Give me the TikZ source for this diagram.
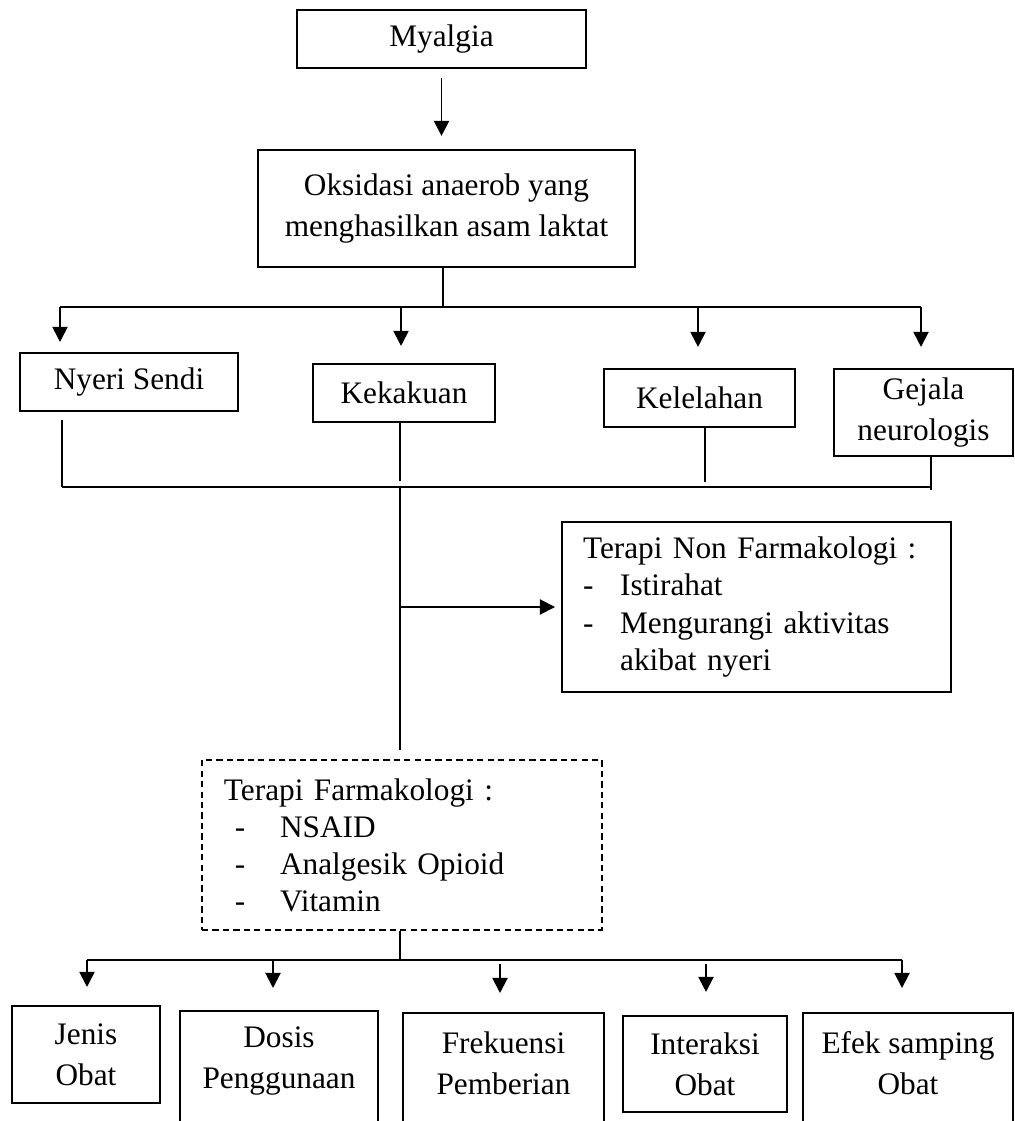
\documentclass[tikz,border=0pt]{standalone}
\usepackage{fontspec}
\setmainfont{Liberation Serif}
\usetikzlibrary{arrows.meta}

\def\px{0.3834pt}

\begin{document}
\begin{tikzpicture}[
    x=\px, y=-\px,
    font=\fontsize{12}{15.7}\selectfont,
    kotak/.style={draw, line width=0.8pt, align=center, inner sep=0pt},
    kotakbuka/.style={kotak, anchor=north, text depth=32pt},
    daftar/.style={kotak, align=left, font=\fontsize{12}{14.2}\selectfont},
    putus/.style={dash pattern=on 2.4pt off 1.6pt},
    garis/.style={line width=0.75pt},
    panah/.style={line width=0.75pt, -{Triangle[length=5.8pt,width=5.8pt]}}
]

\useasboundingbox (0,0) rectangle (1015,1121);

%% Baris atas
\node[kotak, minimum width=289*\px, minimum height=58*\px] (myalgia) at (441.5,39) {Myalgia};
\node[kotak, minimum width=377*\px, minimum height=117*\px] (oksidasi) at (446.5,208.5)
    {Oksidasi anaerob yang\\menghasilkan asam laktat};

%% Gejala
\node[kotak, minimum width=218*\px, minimum height=58*\px] (nyeri) at (129,382) {Nyeri Sendi};
\node[kotak, minimum width=182*\px, minimum height=58*\px] (kekakuan) at (404,393) {Kekakuan};
\node[kotak, minimum width=191*\px, minimum height=58*\px] (kelelahan) at (699.5,398) {Kelelahan};
\node[kotak, minimum width=179*\px, minimum height=87*\px] (gejala) at (923.5,412.5) {Gejala\\neurologis};

%% Terapi
\node[daftar, inner xsep=21*\px, text width=133.0pt, minimum height=170*\px]
    (nonfarm) at (756.5,607) {Terapi Non Farmakologi :\\
    \makebox[14.2pt][l]{-}Istirahat\\
    \makebox[14.2pt][l]{-}Mengurangi aktivitas\\
    \hspace*{14.2pt}akibat nyeri};
\node[daftar, putus, inner xsep=22*\px, text width=136.5pt, minimum height=170*\px]
    (farm) at (402,845) {Terapi Farmakologi :\\
    \hspace*{4.2pt}\makebox[17.3pt][l]{-}NSAID\\
    \hspace*{4.2pt}\makebox[17.3pt][l]{-}Analgesik Opioid\\
    \hspace*{4.2pt}\makebox[17.3pt][l]{-}Vitamin};

%% Aspek obat
\node[kotak, minimum width=148*\px, minimum height=97*\px] (jenis) at (86,1054.5) {Jenis\\Obat};
\node[kotakbuka, minimum width=198*\px, inner ysep=6pt] (dosis) at (279,1010) {Dosis\\Penggunaan};
\node[kotakbuka, minimum width=201*\px, inner ysep=7.1pt] (frekuensi) at (503.5,1012) {Frekuensi\\Pemberian};
\node[kotak, minimum width=164*\px, minimum height=96*\px] (interaksi) at (705,1064) {Interaksi\\Obat};
\node[kotakbuka, minimum width=210*\px, inner ysep=7.1pt] (efek) at (908,1012) {Efek samping\\Obat};

%% Titik cabang
\coordinate (cabang1) at (443,307);
\coordinate (c1a) at (60,307);
\coordinate (c1b) at (401,307);
\coordinate (c1c) at (698,307);
\coordinate (c1d) at (921,307);
\coordinate (c2a) at (62,487);
\coordinate (c2b) at (400,487);
\coordinate (c2c) at (705,487);
\coordinate (c2d) at (931,487);
\coordinate (c3) at (400,960);
\coordinate (c3a) at (87,960);
\coordinate (c3b) at (273,960);
\coordinate (c3c) at (500,960);
\coordinate (c3d) at (706,960);
\coordinate (c3e) at (902,960);

%% Panah atas
\draw[panah, shorten <=9*\px, shorten >=13*\px] (myalgia.south) -- (myalgia.south |- oksidasi.north);
\draw[garis] (oksidasi.south -| cabang1) -- (cabang1);
\draw[garis] (c1a) -- (c1d);
\foreach \c/\b/\t in {c1a/nyeri/10, c1b/kekakuan/17, c1c/kelelahan/21, c1d/gejala/21}
    \draw[panah, shorten >=\t*\px] (\c) -- (\c |- \b.north);

%% Gejala ke garis bawah
\draw[garis, shorten <=8*\px] (nyeri.south -| c2a) -- (c2a);
\draw[garis, shorten >=6*\px] (kekakuan.south -| c2b) -- (c2b);
\draw[garis, shorten >=5*\px] (kelelahan.south -| c2c) -- (c2c);
\draw[garis, shorten >=-3*\px] (gejala.south -| c2d) -- (c2d);
\draw[garis] (c2a) -- (c2d);

%% Ke terapi
\draw[garis, shorten >=9*\px] (c2b) -- (c2b |- farm.north);
\coordinate (c2e) at (c2b |- nonfarm.west);
\draw[panah, shorten >=6*\px] (c2e) -- (nonfarm.west);

%% Terapi farmakologi ke aspek obat
\draw[garis] (farm.south -| c3) -- (c3);
\draw[garis] (c3a) -- (c3e);
\foreach \c/\b/\s/\t in {c3a/jenis/0/18, c3b/dosis/0/22, c3c/frekuensi/4/19,
        c3d/interaksi/4/23, c3e/efek/0/24}
    \draw[panah, shorten <=\s*\px, shorten >=\t*\px] (\c) -- (\c |- \b.north);

\end{tikzpicture}
\end{document}
